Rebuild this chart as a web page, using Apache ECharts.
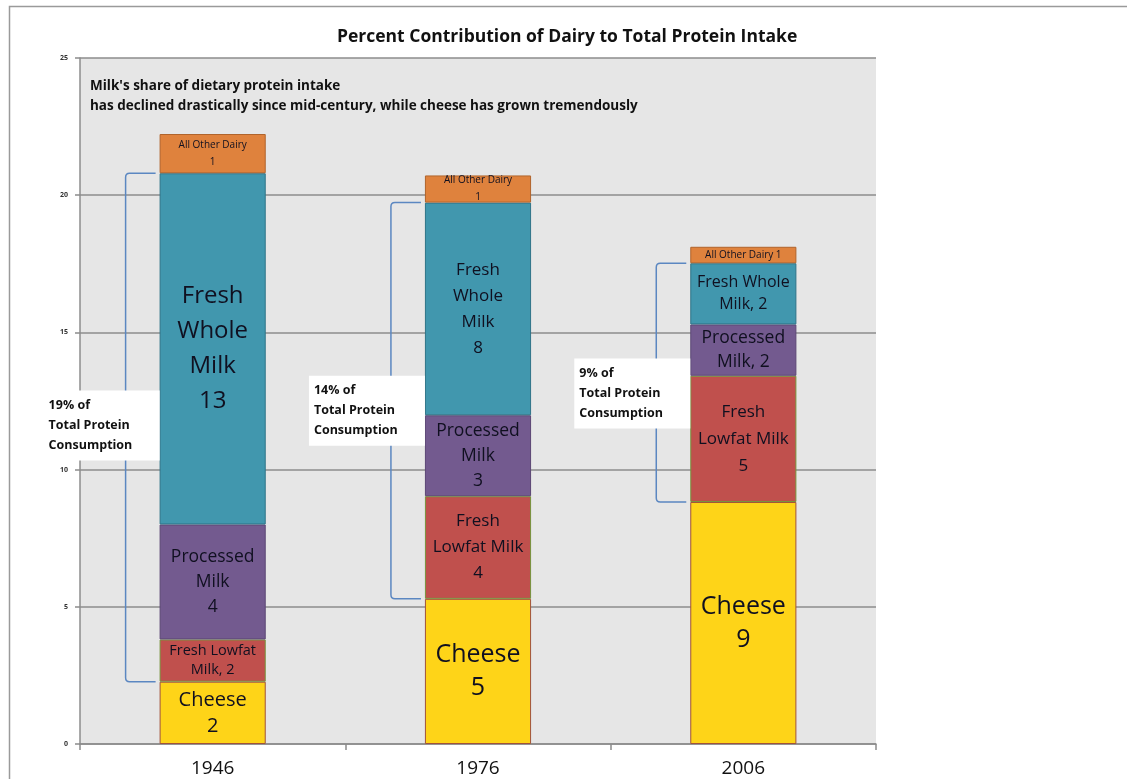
<!DOCTYPE html>
<html>
<head>
<meta charset="utf-8">
<script src="https://cdn.jsdelivr.net/npm/echarts@6/dist/echarts.min.js"></script>
<style>
  html, body { margin: 0; padding: 0; background: #fff; }
  #main { width: 1127px; height: 779px; }
</style>
</head>
<body>
<div id="main"></div>
<script>
// years on the x axis
var years = ['1946', '1976', '2006'];
// stacked segments, % of total protein intake
var cheese    = [2.27, 5.29, 8.82];
var lowfat    = [1.54, 3.74, 4.60];
var processed = [4.19, 2.95, 1.87];
var whole     = [12.80, 7.75, 2.23];
var other     = [1.43, 0.99, 0.60];
// text shown inside each segment
var cheeseText    = ['Cheese\n2', 'Cheese\n5', 'Cheese\n9'];
var lowfatText    = ['Fresh Lowfat\nMilk, 2', 'Fresh\nLowfat Milk\n4', 'Fresh\nLowfat Milk\n5'];
var processedText = ['Processed\nMilk\n4', 'Processed\nMilk\n3', 'Processed\nMilk, 2'];
var wholeText     = ['Fresh\nWhole\nMilk\n13', 'Fresh\nWhole\nMilk\n8', 'Fresh Whole\nMilk, 2'];
var otherText     = ['All Other Dairy\n1', 'All Other Dairy\n1', 'All Other Dairy 1'];
// milk share callouts
var milkShareText = ['19% of\nTotal Protein\nConsumption', '14% of\nTotal Protein\nConsumption', '9% of\nTotal Protein\nConsumption'];
var yTicks = [0, 5, 10, 15, 20, 25];

var chart = echarts.init(document.getElementById('main'));
var FONT = '"Open Sans", Lato, sans-serif';
// vertical nudge of each callout box against its bracket middle (px)
var calloutShift = [-2, 10, 11];

// build one stacked bar series
function makeSeries(name, values, texts, color, border, sizes, heights) {
  return {
    name: name,
    type: 'bar',
    stack: 'dairy',
    barWidth: '40%',
    itemStyle: { color: color, borderColor: border, borderWidth: 1 },
    label: {
      show: true,
      position: 'inside',
      color: '#101020',
      fontFamily: FONT,
      formatter: function (p) { return texts[p.dataIndex]; }
    },
    data: values.map(function (v, i) {
      return { value: v, label: { fontSize: sizes[i], lineHeight: heights[i] } };
    })
  };
}

// bracket around the milk segments + white callout box
var bracketData = years.map(function (y, i) {
  return [i, cheese[i], cheese[i] + lowfat[i] + processed[i] + whole[i]];
});

var option = {
  backgroundColor: '#fff',
  animation: false,
  title: {
    text: 'Percent Contribution of Dairy to Total Protein Intake',
    left: 332,
    top: 23,
    textStyle: { fontFamily: FONT, fontSize: 17.5, fontWeight: 'bold', color: '#111' }
  },
  graphic: [
    {
      type: 'rect', silent: true, z: -10,
      shape: { x: 9.5, y: 6.5, width: 1300, height: 900 },
      style: { fill: 'none', stroke: '#9a9a9a', lineWidth: 1.5 }
    },
    {
      type: 'text', left: 90, top: 76, z: 10,
      style: {
        text: "Milk's share of dietary protein intake\nhas declined drastically since mid-century, while cheese has grown tremendously",
        font: 'bold 13.5px ' + FONT,
        lineHeight: 20,
        fill: '#111'
      }
    }
  ],
  grid: {
    left: 80, right: 251, top: 58, bottom: 35,
    show: true, backgroundColor: '#e6e6e6', borderWidth: 0
  },
  xAxis: {
    type: 'category',
    data: years,
    axisLine: { lineStyle: { color: '#8c8c8c', width: 1.5 } },
    axisTick: { show: true, length: 6, lineStyle: { color: '#8c8c8c', width: 1.5 } },
    axisLabel: { fontFamily: FONT, fontSize: 19, color: '#111', margin: 15 }
  },
  yAxis: {
    type: 'value',
    min: yTicks[0],
    max: yTicks[yTicks.length - 1],
    interval: 5,
    axisLine: { show: true, lineStyle: { color: '#8c8c8c', width: 1.5 } },
    axisTick: { show: true, length: 5, lineStyle: { color: '#8c8c8c', width: 1.5 } },
    axisLabel: { fontFamily: FONT, fontSize: 7, fontWeight: 'bold', color: '#333', margin: 12 },
    splitLine: { lineStyle: { color: '#8c8c8c', width: 1.5 } }
  },
  series: [
    makeSeries('Cheese', cheese, cheeseText, '#fed418', '#a0533a', [20, 25, 25], [26, 33, 33]),
    makeSeries('Fresh Lowfat Milk', lowfat, lowfatText, '#c0504d', '#77933c', [14.5, 17, 17], [19, 26, 27]),
    makeSeries('Processed Milk', processed, processedText, '#735a8f', '#5c4775', [17.5, 17.5, 17.5], [25, 25, 24]),
    makeSeries('Fresh Whole Milk', whole, wholeText, '#4197ae', '#2f7488', [24, 17, 16], [35, 26, 22]),
    makeSeries('All Other Dairy', other, otherText, '#df823d', '#b0642c', [10, 10, 10], [17, 17, 12]),
    {
      type: 'custom',
      clip: false,
      z: 5,
      encode: { x: 0, y: [1, 2] },
      data: bracketData,
      renderItem: function (params, api) {
        var cat = api.value(0);
        var pLo = api.coord([cat, api.value(1)]);
        var pHi = api.coord([cat, api.value(2)]);
        var bw = api.size([1, 0])[0] * 0.4;
        var barLeft = pLo[0] - bw / 2;
        var bx = barLeft - 34;
        var armEnd = barLeft - 4;
        var yTop = pHi[1], yBot = pLo[1];
        var r = 4;
        var path = 'M' + armEnd + ' ' + yTop + ' L' + (bx + r) + ' ' + yTop +
          ' Q' + bx + ' ' + yTop + ' ' + bx + ' ' + (yTop + r) +
          ' L' + bx + ' ' + (yBot - r) +
          ' Q' + bx + ' ' + yBot + ' ' + (bx + r) + ' ' + yBot +
          ' L' + armEnd + ' ' + yBot;
        var boxH = 70, boxW = 116;
        var boxY = (yTop + yBot) / 2 + calloutShift[params.dataIndex] - boxH / 2;
        var boxX = bx - 82;
        return {
          type: 'group',
          children: [
            { type: 'path', shape: { pathData: path }, style: { fill: 'none', stroke: '#5b87c1', lineWidth: 1.5 } },
            { type: 'rect', shape: { x: boxX, y: boxY, width: boxW, height: boxH }, style: { fill: '#fff' } },
            {
              type: 'text',
              style: {
                text: milkShareText[params.dataIndex],
                x: boxX + 5, y: boxY + boxH / 2,
                verticalAlign: 'middle',
                font: 'bold 12.5px ' + FONT,
                lineHeight: 20,
                fill: '#111'
              }
            }
          ]
        };
      }
    }
  ]
};

chart.setOption(option);
</script>
</body>
</html>
